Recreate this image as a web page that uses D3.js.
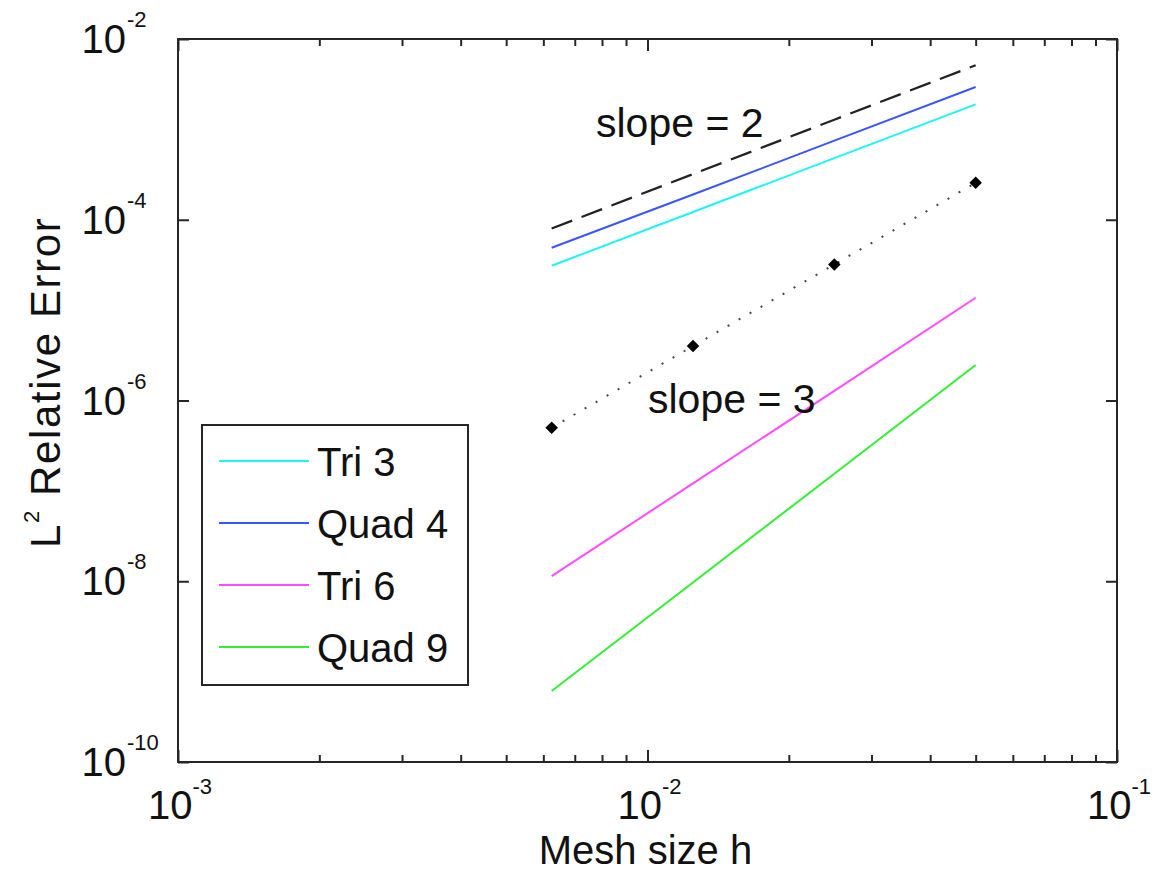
<!DOCTYPE html>
<html>
<head>
<meta charset="utf-8">
<script src="https://cdn.jsdelivr.net/npm/d3@7"></script>
<style>
  html, body { margin: 0; padding: 0; background: #fff; }
  svg { display: block; }
  text { font-family: "Liberation Sans", Arial, Helvetica, sans-serif; fill: #111; }
</style>
</head>
<body>
<svg id="chart" width="1152" height="873"></svg>
<script>
// ---------- data ----------
const meshSizes   = [0.00625, 0.0125, 0.025, 0.05];
const tri3Error   = [3.1e-5, 1.22e-4, 4.8e-4, 1.89e-3];
const quad4Error  = [4.9e-5, 1.9e-4, 7.5e-4, 2.94e-3];
const tri6Error   = [1.14e-8, 1.21e-7, 1.28e-6, 1.37e-5];
const quad9Error  = [6.1e-10, 9.7e-9, 1.55e-7, 2.47e-6];
const slope2Ref   = [8.0e-5, 3.2e-4, 1.28e-3, 5.12e-3];
const slope3Ref   = [5.0e-7, 4.0e-6, 3.2e-5, 2.56e-4];
const seriesNames = ["Tri 3", "Quad 4", "Tri 6", "Quad 9"];
const xMajorTicks = [1e-3, 1e-2, 1e-1];
const xMajorExps  = ["-3", "-2", "-1"];
const xMinorTicks = [2e-3,3e-3,4e-3,5e-3,6e-3,7e-3,8e-3,9e-3,2e-2,3e-2,4e-2,5e-2,6e-2,7e-2,8e-2,9e-2];
const yMajorTicks = [1e-10, 1e-8, 1e-6, 1e-4, 1e-2];
const yMajorExps  = ["-10", "-8", "-6", "-4", "-2"];

// ---------- setup ----------
const colors = ["#1ff4f4", "#3a55ff", "#ff4cff", "#33ee33"];
const seriesVals = [tri3Error, quad4Error, tri6Error, quad9Error];

const svg = d3.select("#chart");
const L = 178, R = 1117, T = 39, B = 762;
const x = d3.scaleLog().domain([1e-3, 1e-1]).range([L, R]);
const y = d3.scaleLog().domain([1e-10, 1e-2]).range([B, T]);
const axisColor = "#262626";
const FS = 40;

// plot box
svg.append("rect").attr("x", L).attr("y", T).attr("width", R - L).attr("height", B - T)
  .attr("fill", "none").attr("stroke", axisColor).attr("stroke-width", 2);

function styleAxis(g) {
  g.select(".domain").remove();
  g.selectAll(".tick line").attr("stroke", axisColor).attr("stroke-width", 2);
  g.selectAll(".tick text").remove();
}
// bottom & top major/minor ticks (inward)
svg.append("g").attr("transform", `translate(0,${B})`)
  .call(d3.axisTop(x).tickValues(xMajorTicks).tickSize(12).tickFormat("")).call(styleAxis);
svg.append("g").attr("transform", `translate(0,${B})`)
  .call(d3.axisTop(x).tickValues(xMinorTicks).tickSize(7).tickFormat("")).call(styleAxis);
svg.append("g").attr("transform", `translate(0,${T})`)
  .call(d3.axisBottom(x).tickValues(xMajorTicks).tickSize(12).tickFormat("")).call(styleAxis);
svg.append("g").attr("transform", `translate(0,${T})`)
  .call(d3.axisBottom(x).tickValues(xMinorTicks).tickSize(7).tickFormat("")).call(styleAxis);
// left & right major ticks (inward)
svg.append("g").attr("transform", `translate(${L},0)`)
  .call(d3.axisRight(y).tickValues(yMajorTicks).tickSize(11).tickFormat("")).call(styleAxis);
svg.append("g").attr("transform", `translate(${R},0)`)
  .call(d3.axisLeft(y).tickValues(yMajorTicks).tickSize(11).tickFormat("")).call(styleAxis);

// x tick labels
xMajorTicks.forEach((v, i) => {
  const t = svg.append("text").attr("x", x(v) + 2).attr("y", 819)
    .attr("text-anchor", "middle").attr("font-size", FS);
  t.append("tspan").text("10");
  t.append("tspan").attr("dy", -25).attr("font-size", 22).text(xMajorExps[i]);
});
// y tick labels
yMajorTicks.forEach((v, i) => {
  svg.append("text").attr("x", 126).attr("y", y(v) + 14)
    .attr("text-anchor", "end").attr("font-size", FS).text("10");
  svg.append("text").attr("x", 127).attr("y", y(v) - 12)
    .attr("text-anchor", "start").attr("font-size", 22).text(yMajorExps[i]);
});

// axis titles
svg.append("text").attr("x", (L + R) / 2 - 2).attr("y", 864)
  .attr("text-anchor", "middle").attr("font-size", FS).text("Mesh size h");
const yt = svg.append("text").attr("transform", "translate(60,548) rotate(-90)")
  .attr("text-anchor", "start").attr("font-size", 42).attr("letter-spacing", 1.6);
yt.append("tspan").text("L");
yt.append("tspan").attr("dy", -21).attr("font-size", 22).text("2");
yt.append("tspan").attr("dy", 21).text(" Relative Error");

// lines
const line = d3.line().x(d => x(d[0])).y(d => y(d[1]));
const pairs = arr => meshSizes.map((h, i) => [h, arr[i]]);

svg.append("path").datum(pairs(slope2Ref)).attr("d", line)
  .attr("fill", "none").attr("stroke", "#222").attr("stroke-width", 2.2)
  .attr("stroke-dasharray", "22,10");

svg.append("path").datum(pairs(slope3Ref)).attr("d", line)
  .attr("fill", "none").attr("stroke", "#444").attr("stroke-width", 2)
  .attr("stroke-dasharray", "2,10.7");

seriesVals.forEach((vals, i) => {
  svg.append("path").datum(pairs(vals)).attr("d", line)
    .attr("fill", "none").attr("stroke", colors[i]).attr("stroke-width", 2);
});

// diamond markers
svg.selectAll("path.marker").data(pairs(slope3Ref)).enter().append("path")
  .attr("class", "marker")
  .attr("d", d3.symbol().type(d3.symbolDiamond2).size(100))
  .attr("transform", d => `translate(${x(d[0])},${y(d[1])})`)
  .attr("fill", "#000");

// slope annotations
svg.append("text").attr("x", 596).attr("y", 137).attr("font-size", 41).text("slope = 2");
svg.append("text").attr("x", 648).attr("y", 413).attr("font-size", 41).text("slope = 3");

// legend
const lg = svg.append("g");
lg.append("rect").attr("x", 202).attr("y", 425).attr("width", 266).attr("height", 260)
  .attr("fill", "#fff").attr("stroke", axisColor).attr("stroke-width", 2);
const rowY = [461, 523, 585, 647];
seriesNames.forEach((name, i) => {
  lg.append("line").attr("x1", 219).attr("x2", 309).attr("y1", rowY[i]).attr("y2", rowY[i])
    .attr("stroke", colors[i]).attr("stroke-width", 2);
  lg.append("text").attr("x", 317).attr("y", rowY[i] + 15).attr("font-size", FS).text(name);
});
</script>
</body>
</html>
